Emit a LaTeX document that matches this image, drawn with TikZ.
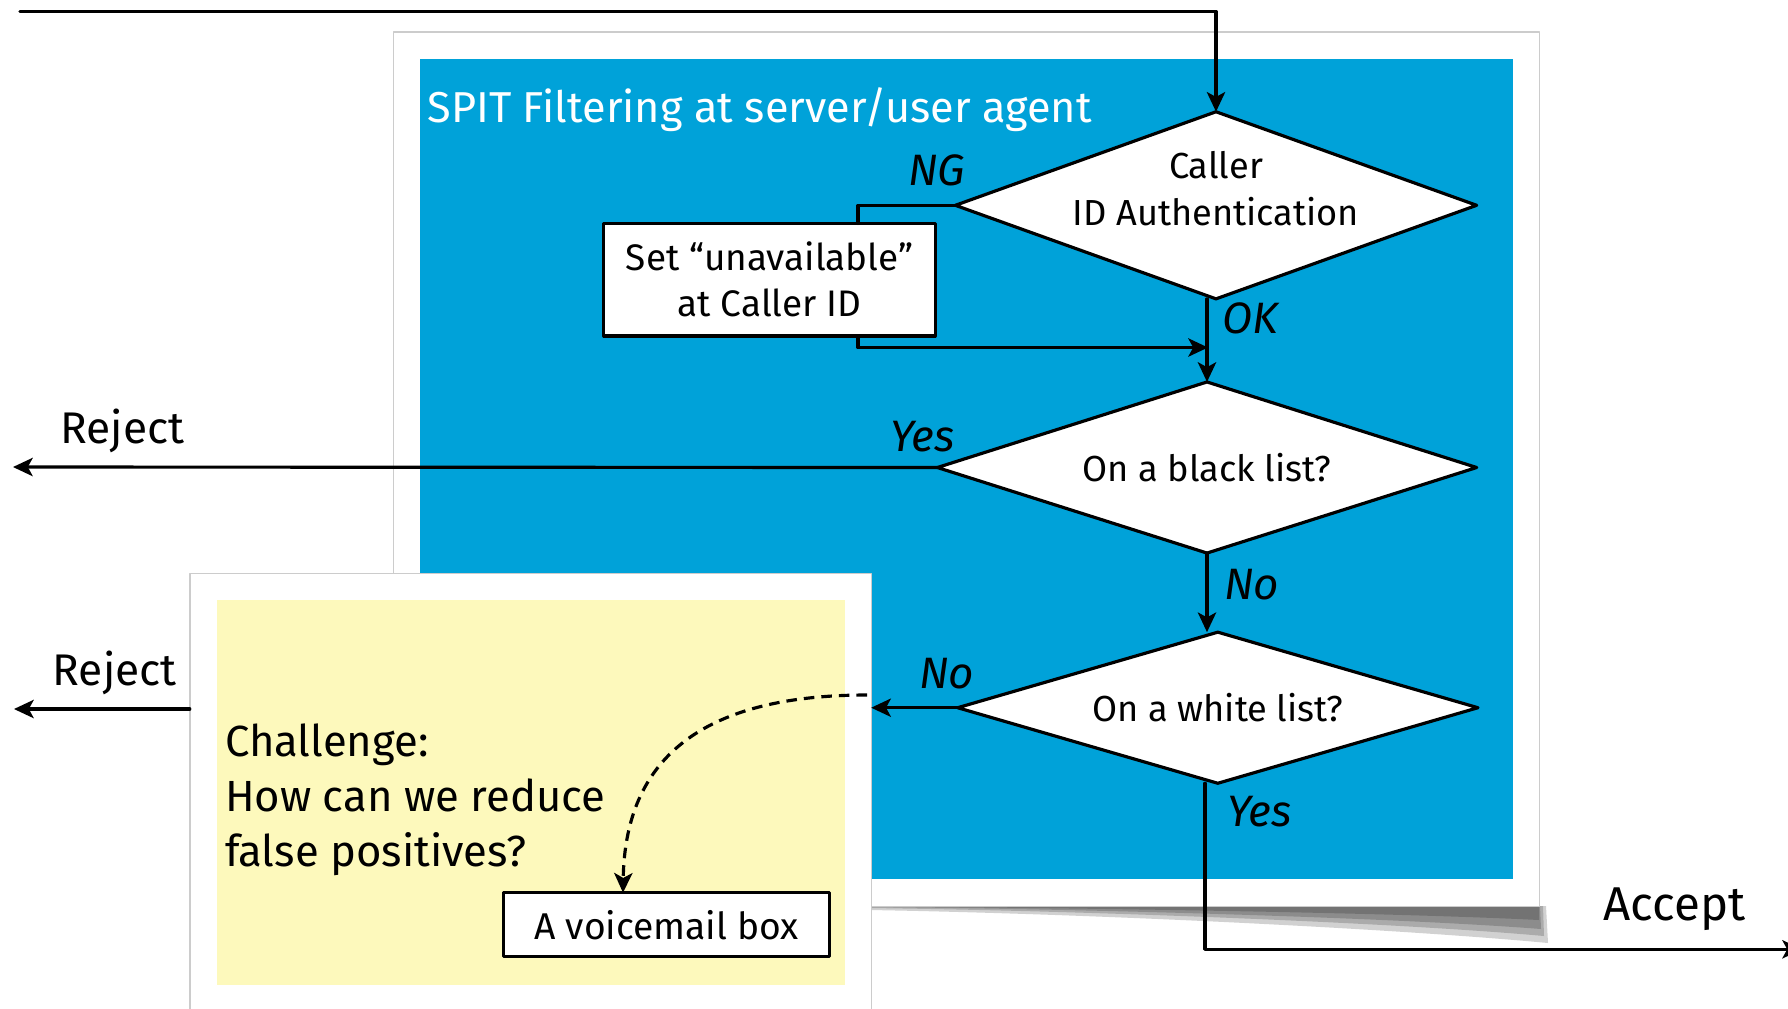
\documentclass[tikz,border=0pt]{standalone}
\usepackage{fontspec}
\setmainfont{Fira Sans}
\usetikzlibrary{shapes.geometric,arrows.meta}
\definecolor{spitblue}{RGB}{0,162,217}
\definecolor{notepaper}{RGB}{253,249,188}
\newcommand{\fsz}[2]{\fontsize{#1}{#2}\selectfont}
\begin{document}
\begin{tikzpicture}[x=0.01cm, y=-0.01cm, line join=round, line cap=round, >={Stealth[length=5.6pt,width=5.2pt,inset=1.4pt]}]
	\tikzset{every node/.style={inner sep=0pt, outer sep=0pt},
		flow/.style={line width=0.9pt},
		decision/.style={diamond, draw, fill=white, line width=0.9pt, font=\fsz{10.3}{13.3}},
		action/.style={rectangle, draw, fill=white, line width=0.9pt, align=center, font=\fsz{10.5}{13.1}},
		caption/.style={font=\fsz{10.3}{13.3}, align=center},
		answer/.style={anchor=base west, font=\fsz{12.5}{15}\itshape},
		verdict/.style={anchor=base west, font=\fsz{12.6}{15}},
		curl/.style={black, opacity=0.18}}
	\useasboundingbox (0,0) rectangle (1788,1008);
	% panels
	\fill[curl] (870,906) -- (1546,906) -- (1548,943) .. controls (1400,929) and (1100,914) .. (870,910) -- cycle;
	\fill[curl] (870,906) -- (1543,906) -- (1544,936) .. controls (1400,923) and (1100,911) .. (870,908) -- cycle;
	\fill[curl] (870,906) -- (1540,906) -- (1541,929) .. controls (1400,918) and (1100,909) .. (870,907) -- cycle;
	\fill[curl] (870,906) -- (1539,906) -- (1539,920) .. controls (1400,913) and (1100,908) .. (870,906.5) -- cycle;
	\draw[black!20, fill=white] (393.4,31.9) rectangle (1539.4,906.5);
	\fill[spitblue] (419.6,59.3) rectangle (1513.2,878.5);
	\node (ttl) [anchor=base west, text=white, font=\fsz{12.3}{15}] at (427.6,122) {SPIT Filtering at server/user agent};
	\node (note) [draw=black!20, fill=white, minimum width=6.81cm, minimum height=4.56cm] at (530.5,801.8) {};
	\fill[notepaper] (216.5,600) rectangle (845,985);
	% flow chart
	\node (auth) [decision, aspect=2.786, minimum width=5.21cm, minimum height=1.87cm, label={[caption, yshift=0.17cm]center:{Caller\\ID Authentication}}] at (1216,205.3) {};
	\node (unavail) [action, minimum width=3.31cm, minimum height=1.125cm] at (769.5,279.7) {Set “unavailable”\\at Caller ID};
	\node (black) [decision, aspect=3.152, minimum width=5.39cm, minimum height=1.71cm] at (1207,467.5) {On a black list?};
	\node (white) [decision, aspect=3.444, minimum width=5.2cm, minimum height=1.51cm] at (1217.8,707.7) {On a white list?};
	\node (vmail) [action, minimum width=3.255cm, minimum height=0.64cm, font=\fsz{10.6}{13}] at (666.7,924.7) {A voicemail box};
	\node (chal) [anchor=west, align=left, font=\fsz{12.4}{15.7}] at (225,800) {Challenge:\\How can we reduce\\false positives?};
	\coordinate (inlet) at (20,11.5);
	\coordinate (ngx) at (858,0);
	\coordinate (okjoin) at (1208,347.5);
	\coordinate (rejtop) at (13,467);
	\coordinate (rejlow) at (14,709);
	\coordinate (accx) at (1205,0);
	\coordinate (accept) at (1802,949.3);
	\coordinate (maybe) at (867,695);
	\coordinate (vmx) at (623,0);
	\draw[flow,->] (inlet) -| (auth.north);
	\draw[flow] (auth.west) -| (unavail.north -| ngx);
	\draw[flow,->] (unavail.south -| ngx) |- (okjoin);
	\draw[flow,->] (black.north |- auth.south) -- (black.north);
	\draw[flow,->] (black.west) -- (rejtop);
	\draw[flow,->] (black.south) -- (black.south |- white.north);
	\draw[flow,->] (white.west) -- (white.west -| note.east);
	\draw[flow,->] (note.west |- rejlow) -- (rejlow);
	\draw[flow,->] (white.south -| accx) |- (accept);
	\draw[flow,->,line cap=butt,dash pattern=on 3pt off 2pt] (maybe) .. controls (700,695) and (625,760) .. (vmail.north -| vmx);
	% labels
	\node (ng) [answer] at (908,185) {NG};
	\node (ok) [answer] at (1222,333) {OK};
	\node (yes1) [answer] at (890,451) {Yes};
	\node (no1) [answer] at (1224,599) {No};
	\node (no2) [answer] at (919,688) {No};
	\node (yes2) [answer] at (1227,826.7) {Yes};
	\node (rej1) [verdict] at (60.6,443) {Reject};
	\node (rej2) [verdict] at (52.8,685) {Reject};
	\node (acc) [verdict, font=\fsz{13.5}{15}] at (1603.7,920) {Accept};
\end{tikzpicture}
\end{document}
